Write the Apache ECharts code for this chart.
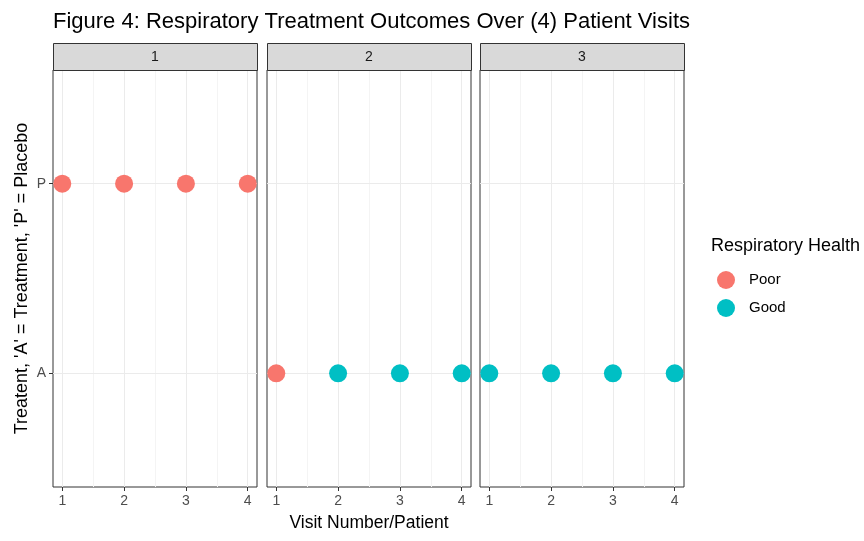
<!DOCTYPE html>
<html>
<head>
<meta charset="utf-8">
<script src="https://cdn.jsdelivr.net/npm/echarts@6/dist/echarts.min.js"></script>
<style>html,body{margin:0;padding:0;background:#fff;}#c{width:864px;height:541px;}</style>
</head>
<body>
<div id="c"></div>
<script>
// ---- data ----
const patients = ['1', '2', '3'];
const visits = [1, 2, 3, 4];
const treatmentByPatient = ['P', 'A', 'A'];
const healthP1 = ['Poor', 'Poor', 'Poor', 'Poor'];
const healthP2 = ['Poor', 'Good', 'Good', 'Good'];
const healthP3 = ['Good', 'Good', 'Good', 'Good'];
const treatmentLevels = ['A', 'P'];
const healthLevels = ['Poor', 'Good'];
const xTicks = [1, 2, 3, 4];
const xMinor = [1.5, 2.5, 3.5];

// ---- layout ----
const FONT = 'Liberation Sans, Arial, sans-serif';
const healthColors = { Poor: '#F8766D', Good: '#00BFC4' };
const gridLefts = [53, 267, 480];
const gridW = 204, gridTop = 70, gridH = 417, stripTop = 43;
const healthByPatient = [healthP1, healthP2, healthP3];

const chart = echarts.init(document.getElementById('c'), null, { renderer: 'canvas' });

const grids = [], xAxes = [], yAxes = [], series = [], graphics = [];
patients.forEach((p, i) => {
  grids.push({ left: gridLefts[i], top: gridTop, width: gridW, height: gridH,
    show: true, borderColor: '#333333', borderWidth: 1, backgroundColor: 'transparent', containLabel: false, z: 0 });
  xAxes.push({
    type: 'value', gridIndex: i, min: 0.85, max: 4.15,
    axisLine: { show: false },
    axisTick: { show: true, customValues: xTicks, length: 4, lineStyle: { color: '#333333', width: 1 } },
    axisLabel: { show: true, customValues: xTicks, color: '#4d4d4d', fontSize: 14, fontFamily: FONT, margin: 7,
      formatter: v => String(v) },
    splitLine: { show: false },
    name: i === 1 ? 'Visit Number/Patient' : '',
    nameLocation: 'middle', nameGap: 27,
    nameTextStyle: { color: '#000', fontSize: 17.5, fontFamily: FONT }
  });
  yAxes.push({
    type: 'value', gridIndex: i, min: 0.4, max: 2.6,
    axisLine: { show: false },
    axisTick: { show: i === 0, customValues: [1, 2], length: 4, lineStyle: { color: '#333333', width: 1 } },
    axisLabel: { show: i === 0, customValues: [1, 2], color: '#4d4d4d', fontSize: 14, fontFamily: FONT, margin: 7,
      formatter: v => treatmentLevels[Math.round(v) - 1] || '' },
    splitLine: { show: false },
    name: i === 0 ? "Treatent, 'A' = Treatment, 'P' = Placebo" : '',
    nameLocation: 'middle', nameGap: 22, nameRotate: 90,
    nameTextStyle: { color: '#000', fontSize: 18, fontFamily: FONT }
  });
  // grid lines
  series.push({
    type: 'line', xAxisIndex: i, yAxisIndex: i, data: [], silent: true, z: 1, zlevel: 0,
    markLine: {
      silent: true, symbol: 'none', animation: false, z: 1,
      label: { show: false },
      data: [
        ...xMinor.map(v => ({ xAxis: v, lineStyle: { color: '#f4f4f4', width: 1, type: 'solid' } })),
        ...xTicks.map(v => ({ xAxis: v, lineStyle: { color: '#ebebeb', width: 1, type: 'solid' } })),
        ...treatmentLevels.map((t, k) => ({ yAxis: k + 1, lineStyle: { color: '#ebebeb', width: 1, type: 'solid' } }))
      ]
    }
  });
  const y = treatmentLevels.indexOf(treatmentByPatient[i]) + 1;
  healthLevels.forEach(h => {
    series.push({
      name: h, type: 'scatter', xAxisIndex: i, yAxisIndex: i, z: 10, zlevel: 1,
      symbol: 'circle', symbolSize: 18, clip: false,
      itemStyle: { color: healthColors[h], opacity: 1 },
      data: visits.filter((v, k) => healthByPatient[i][k] === h).map(v => [v, y])
    });
  });
  // strip
  graphics.push({
    type: 'rect', z: 50, zlevel: 1,
    shape: { x: gridLefts[i] + 0.5, y: stripTop + 0.5, width: gridW, height: gridTop - stripTop },
    style: { fill: '#d9d9d9', stroke: '#333333', lineWidth: 1 }
  });
  graphics.push({
    type: 'text', z: 51, zlevel: 1, x: gridLefts[i] + gridW / 2, y: stripTop + (gridTop - stripTop) / 2 + 1,
    style: { text: p, fill: '#1a1a1a', font: '14px ' + FONT, align: 'center', verticalAlign: 'middle' }
  });
});

chart.setOption({
  animation: false,
  backgroundColor: '#ffffff',
  title: [
    { text: 'Figure 4: Respiratory Treatment Outcomes Over (4) Patient Visits', left: 48, top: 6,
      textStyle: { color: '#000', fontSize: 22, fontWeight: 'normal', fontFamily: FONT } },
    { text: 'Respiratory Health', left: 706, top: 232,
      textStyle: { color: '#000', fontSize: 18, fontWeight: 'normal', fontFamily: FONT } }
  ],
  legend: {
    data: healthLevels, orient: 'vertical', left: 712, top: 266,
    icon: 'circle', itemWidth: 18, itemHeight: 18, itemGap: 10,
    textStyle: { color: '#000', fontSize: 15, fontFamily: FONT, padding: [0, 0, 0, 9] },
    selectedMode: false
  },
  grid: grids, xAxis: xAxes, yAxis: yAxes, series: series,
  graphic: graphics
});
</script>
</body>
</html>
